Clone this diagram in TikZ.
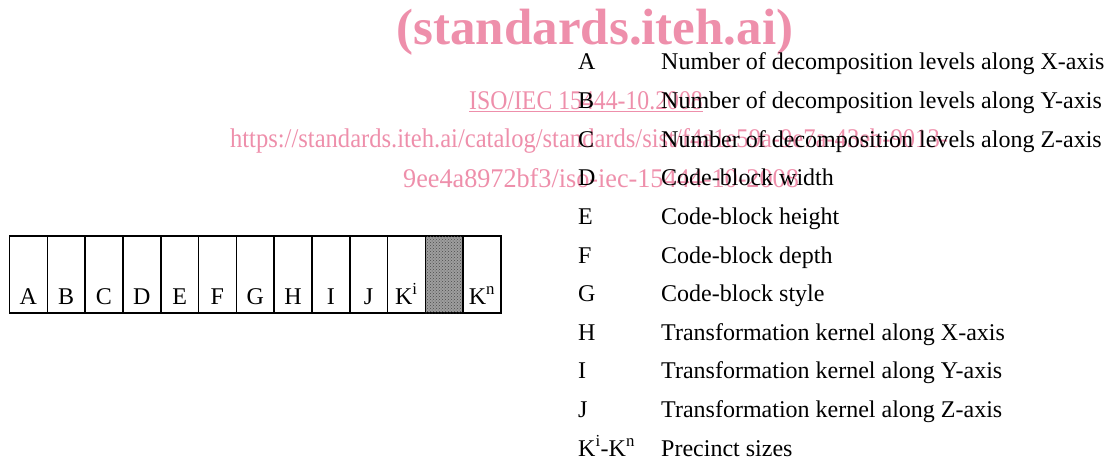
\documentclass[tikz,border=0pt]{standalone}
\usepackage{fontspec}
\setmainfont{Liberation Serif}
\usetikzlibrary{patterns}
\definecolor{wmpink}{RGB}{238,143,171}
\begin{document}
\begin{tikzpicture}[x=1pt,y=-1pt,
  cell/.style={draw, line width=1.6pt, minimum width=37.8pt, minimum height=77pt,
    inner sep=0pt, outer sep=0pt, anchor=north west},
  shaded/.style={cell, fill=black!38, postaction={pattern=crosshatch dots, pattern color=black!70}},
  celltext/.style={anchor=base, inner sep=0pt, font=\fontsize{24}{24}\selectfont},
  keytext/.style={anchor=base west, inner sep=0pt, font=\fontsize{24}{24}\selectfont},
  wm/.style={text=wmpink, inner sep=0pt}]
\useasboundingbox (0,0) rectangle (1108,460);

% watermark
\node[wm, font=\fontsize{51}{51}\selectfont\bfseries] (wm1) at (595,32) {(standards.iteh.ai)};
\node[wm, font=\fontsize{27}{27}\selectfont, xscale=0.88] (wm2) at (586,102) {\underline{ISO/IEC 15444-10.2008}};
\node[wm, font=\fontsize{27}{27}\selectfont, xscale=0.91] (wm3) at (589,141) {https://standards.iteh.ai/catalog/standards/sist/f4a1e59a-9e7a-43eb-9013-};
\node[wm, font=\fontsize{27}{27}\selectfont, xscale=0.97] (wm4) at (601,178) {9ee4a8972bf3/iso-iec-15444-10-2008};

% field strip
\foreach \n/\t [count=\i from 0] in {cA/A,cB/B,cC/C,cD/D,cE/E,cF/F,cG/G,cH/H,cI/I,cJ/J,cKi/K\textsuperscript{i}}{
  \node[cell] (\n) at (9.5+\i*37.8,236) {};
  \node[celltext] (\n t) at ([yshift=9pt]\n.south) {\t};
}
\node[shaded] (cS) at (9.5+11*37.8,236) {};
\node[cell] (cKn) at (9.5+12*37.8,236) {};
\node[celltext] (cKnt) at ([yshift=9pt]cKn.south) {K\textsuperscript{n}};

% legend
\foreach \k/\d [count=\i from 0] in {
  A/Number of decomposition levels along X-axis,
  B/Number of decomposition levels along Y-axis,
  C/Number of decomposition levels along Z-axis,
  D/Code-block width,
  E/Code-block height,
  F/Code-block depth,
  G/Code-block style,
  H/Transformation kernel along X-axis,
  I/Transformation kernel along Y-axis,
  J/Transformation kernel along Z-axis,
  K\textsuperscript{i}-K\textsuperscript{n}/Precinct sizes}{
  \node[keytext] (key\i) at (578,70+\i*38.6) {\k};
  \node[keytext] (desc\i) at (661,70+\i*38.6) {\d};
}
\end{tikzpicture}
\end{document}
